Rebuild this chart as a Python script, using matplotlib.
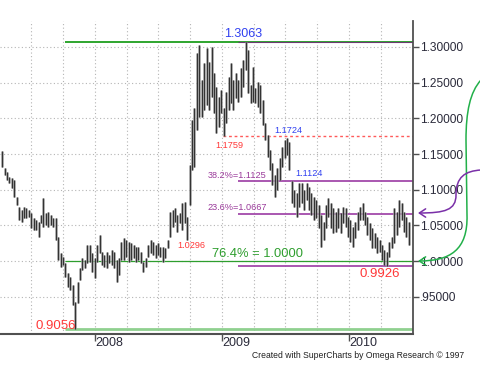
import numpy as np
import pandas as pd
import matplotlib
matplotlib.use("Agg")
import matplotlib.pyplot as plt
import matplotlib.dates as mdates
from matplotlib.path import Path
from matplotlib.patches import FancyArrowPatch

plt.rcParams['font.family'] = ['Liberation Sans', 'DejaVu Sans']

# ---- data: weekly USD/CAD high / low ----
start_date = '2007-04-09'
highs = [
    1.1543, 1.1305, 1.1249, 1.1179, 1.1165, 1.1137, 1.0899, 1.0759, 1.0717, 1.0759,
    1.0745, 1.0717, 1.0675, 1.0605, 1.0577, 1.0549, 1.0647, 1.0885, 1.0675, 1.0689,
    1.0647, 1.0605, 1.0605, 1.0339, 1.0115, 1.0059, 0.9975, 0.9835, 0.9779, 0.9667,
    0.9429, 0.9709, 0.9905, 1.0045, 1.0017, 1.0227, 1.0227, 1.0115, 1.0045, 1.0227,
    1.0367, 1.0129, 1.0087, 1.0129, 1.0087, 1.0157, 1.0129, 1.0017, 1.0045, 1.0269,
    1.0325, 1.0297, 1.0269, 1.0255, 1.0227, 1.0199, 1.0199, 1.0129, 0.9989, 1.0045,
    1.0227, 1.0297, 1.0269, 1.0227, 1.0255, 1.0199, 1.0199, 1.0185, 1.0297, 1.0689,
    1.0717, 1.0745, 1.0647, 1.0675, 1.0815, 1.0829, 1.0619, 1.1347, 1.1978, 1.2146,
    1.2916, 1.3028, 1.2538, 1.2776, 1.2986, 1.2790, 1.3000, 1.2636, 1.2440, 1.2300,
    1.2398, 1.2146, 1.2370, 1.2580, 1.2776, 1.2538, 1.2636, 1.2538, 1.2706, 1.2818,
    1.3063, 1.2958, 1.2468, 1.2720, 1.2426, 1.2510, 1.2468, 1.2258, 1.1936, 1.1767,
    1.1557, 1.1375, 1.1207, 1.1305, 1.1445, 1.1599, 1.1697, 1.1724, 1.1669, 1.1124,
    1.0997, 1.0955, 1.1095, 1.1095, 1.0997, 1.1095, 1.1039, 1.0955, 1.0899, 1.0857,
    1.0787, 1.0647, 1.0549, 1.0787, 1.0885, 1.0815, 1.0745, 1.0689, 1.0745, 1.0675,
    1.0759, 1.0745, 1.0619, 1.0577, 1.0479, 1.0549, 1.0689, 1.0759, 1.0815, 1.0689,
    1.0619, 1.0535, 1.0465, 1.0395, 1.0339, 1.0297, 1.0227, 1.0157, 1.0129, 1.0269,
    1.0339, 1.0745, 1.0689, 1.0857, 1.0815, 1.0689, 1.0619, 1.0549,
]
lows = [
    1.1319, 1.1207, 1.1137, 1.1095, 1.1025, 1.0899, 1.0787, 1.0577, 1.0549, 1.0605,
    1.0605, 1.0619, 1.0465, 1.0437, 1.0437, 1.0339, 1.0535, 1.0479, 1.0507, 1.0479,
    1.0507, 1.0479, 1.0297, 1.0017, 0.9919, 0.9947, 0.9779, 0.9639, 0.9597, 0.9387,
    0.9056, 0.9415, 0.9737, 0.9877, 0.9905, 0.9975, 0.9989, 0.9849, 0.9765, 0.9989,
    1.0115, 0.9947, 0.9919, 0.9905, 0.9975, 0.9947, 0.9905, 0.9709, 0.9807, 1.0017,
    1.0017, 1.0059, 0.9989, 1.0017, 1.0045, 0.9989, 1.0017, 0.9975, 0.9849, 0.9919,
    1.0059, 1.0115, 1.0087, 1.0045, 1.0087, 1.0059, 0.9989, 1.0045, 1.0185, 1.0339,
    1.0479, 1.0549, 1.0409, 1.0535, 1.0437, 1.0535, 1.0296, 1.0787, 1.1277, 1.1319,
    1.1838, 1.2020, 1.2020, 1.2118, 1.2188, 1.2118, 1.2300, 1.2076, 1.1796, 1.1880,
    1.2076, 1.1759, 1.1936, 1.2118, 1.2216, 1.2118, 1.2286, 1.2230, 1.2300, 1.2440,
    1.2678, 1.2356, 1.2216, 1.2230, 1.2216, 1.2160, 1.2076, 1.1908, 1.1697, 1.1459,
    1.1277, 1.1067, 1.0899, 1.0997, 1.1137, 1.1319, 1.1445, 1.1487, 1.1277, 1.0815,
    1.0759, 1.0619, 1.0759, 1.0815, 1.0717, 1.0857, 1.0717, 1.0647, 1.0577, 1.0605,
    1.0465, 1.0199, 1.0297, 1.0465, 1.0619, 1.0465, 1.0395, 1.0409, 1.0465, 1.0395,
    1.0535, 1.0479, 1.0339, 1.0269, 1.0199, 1.0325, 1.0437, 1.0577, 1.0577, 1.0507,
    1.0367, 1.0297, 1.0185, 1.0185, 1.0115, 1.0129, 1.0017, 0.9947, 0.9926, 1.0059,
    1.0185, 1.0255, 1.0367, 1.0479, 1.0577, 1.0409, 1.0339, 1.0227,
]
y_ticks = [0.95, 1.00, 1.05, 1.10, 1.15, 1.20, 1.25, 1.30]
y_labels = ['.95000', '1.00000', '1.05000', '1.10000', '1.15000', '1.20000', '1.25000', '1.30000']
x_years = ['2008', '2009', '2010']

high_peak = 1.3063
low_2007 = 0.9056
low_2010 = 0.9926
low_2008 = 1.0296
low_2009a = 1.1759
high_2009b = 1.1724
high_2009c = 1.1124
fib382 = 1.1125
fib236 = 1.0667
fib764 = 1.0000

dates = pd.date_range(start_date, periods=len(highs), freq='W-MON')
xd = mdates.date2num(dates.to_pydatetime())

W, H = 481, 375
fig = plt.figure(figsize=(W / 100, H / 100), dpi=100)
ax = fig.add_axes([0, 1 - 333.5 / H, 413 / W, (333.5 - 21) / H])

x0 = mdates.date2num(pd.Timestamp('2007-04-03'))
x1 = mdates.date2num(pd.Timestamp('2010-07-03'))
ax.set_xlim(x0, x1)
ax.set_ylim(0.89874, 1.33641)

def d(s):
    return mdates.date2num(pd.Timestamp(s))

# grid
grid_kw = dict(color='#b4b4b4', lw=0.8, linestyle=(0, (1, 2.2)), zorder=0)
for yv in y_ticks:
    ax.axhline(yv, **grid_kw)
for q in pd.date_range('2007-07-01', '2010-04-01', freq='QS'):
    ax.axvline(mdates.date2num(q), **grid_kw)

# level lines
ax.hlines(low_2007, d('2007-10-06'), x1, color='#8fd08f', lw=2.0, zorder=1)
ax.hlines(high_peak, d('2007-10-06'), x1, color='#2ea52e', lw=1.4, zorder=1)
ax.hlines(fib764, d('2007-10-06'), x1, color='#2e9e2e', lw=0.9, zorder=1)
ax.hlines(low_2009a, d('2009-01-04'), x1, color='#ff5a5a', lw=1.0,
          linestyle=(0, (2, 2)), zorder=1)
purple = '#a24aaa'
for lv in [fib382, fib236, low_2010]:
    ax.hlines(lv, d('2009-02-15'), x1, color=purple, lw=1.3, zorder=1)
ax.hlines(high_peak + 0.0012, d('2009-02-15'), x1, color='#6a3a70', lw=0.8, zorder=1)

# bars
ax.vlines(xd, lows, highs, colors='#a0a0a0', lw=1.8, zorder=2)
ax.vlines(xd, lows, highs, colors='#333333', lw=0.8, zorder=3)

# axes styling
for s in ['top', 'left']:
    ax.spines[s].set_visible(False)
ax.spines['right'].set_color('#505050')
ax.spines['right'].set_linewidth(1.3)
ax.spines['bottom'].set_color('#505050')
ax.spines['bottom'].set_linewidth(1.5)
ax.yaxis.tick_right()
ax.set_yticks(y_ticks)
ax.set_yticklabels(y_labels)
ax.tick_params(axis='y', direction='out', length=4, width=1, color='#505050',
               labelsize=8.6, pad=1.2, labelcolor='#2a2a3a')
ax.set_xticks([d(y + '-01-01') for y in x_years])
ax.set_xticklabels(x_years)
for lab in ax.get_xticklabels():
    lab.set_horizontalalignment('left')
ax.tick_params(axis='x', direction='out', length=5, width=1, color='#505050',
               labelsize=9, pad=-2.2, labelcolor='#2a2a3a')

# text annotations
blue = '#3040f0'
red = '#ff3838'
green = '#2e9e2e'
ax.text(d('2009-03-01'), high_peak + 0.003, '1.3063', color=blue, fontsize=9,
        ha='center', va='bottom')
ax.text(d('2007-09-10'), low_2007 + 0.004, '0.9056', color=red, fontsize=9.5,
        ha='center', va='center')
ax.text(d('2008-10-03'), low_2008 - 0.008, '1.0296', color=red, fontsize=6.6,
        ha='center', va='center')
ax.text(d('2009-01-21'), low_2009a - 0.014, '1.1759', color=red, fontsize=6.6,
        ha='center', va='center')
ax.text(d('2009-07-09'), high_2009b + 0.011, '1.1724', color=blue, fontsize=6.6,
        ha='center', va='center')
ax.text(d('2009-09-07'), high_2009c + 0.010, '1.1124', color=blue, fontsize=6.6,
        ha='center', va='center')
ax.text(d('2008-11-20'), fib382 + 0.008, '38.2%=1.1125', color='#9a3a9a', fontsize=6.6,
        ha='left', va='center')
ax.text(d('2008-11-20'), fib236 + 0.009, '23.6%=1.0667', color='#9a3a9a', fontsize=6.6,
        ha='left', va='center')
ax.text(d('2008-12-01'), fib764 + 0.010, '76.4% = 1.0000', color=green, fontsize=9.3,
        ha='left', va='center')
ax.text(d('2010-03-29'), low_2010 - 0.0105, '0.9926', color=red, fontsize=9.5,
        ha='center', va='center')

# overlay for right-side arrows
ov = fig.add_axes([0, 0, 1, 1], facecolor='none')
ov.set_xlim(0, W)
ov.set_ylim(H, 0)
ov.axis('off')
gpath = Path([(481, 80), (470, 92), (466, 112), (466, 140),
              (467, 215),
              (468, 250), (450, 261), (418, 261)],
             [Path.MOVETO, Path.CURVE4, Path.CURVE4, Path.CURVE4,
              Path.LINETO,
              Path.CURVE4, Path.CURVE4, Path.CURVE4])
ov.add_patch(FancyArrowPatch(path=gpath, arrowstyle='->,head_length=0.45,head_width=0.3',
                             mutation_scale=10, color='#22b04a', lw=1.1))
ppath = Path([(481, 170), (465, 171), (456, 177), (456, 195),
              (456, 210), (445, 213), (418, 213)],
             [Path.MOVETO, Path.CURVE4, Path.CURVE4, Path.CURVE4,
              Path.CURVE4, Path.CURVE4, Path.CURVE4])
ov.add_patch(FancyArrowPatch(path=ppath, arrowstyle='->,head_length=0.45,head_width=0.3',
                             mutation_scale=10, color='#7a30a8', lw=1.1))

fig.text(358 / W, 1 - 356 / H, 'Created with SuperCharts by Omega Research \u00a9 1997',
         ha='center', va='center', fontsize=6.2, color='#202020')

fig.savefig('out.png', dpi=100)
